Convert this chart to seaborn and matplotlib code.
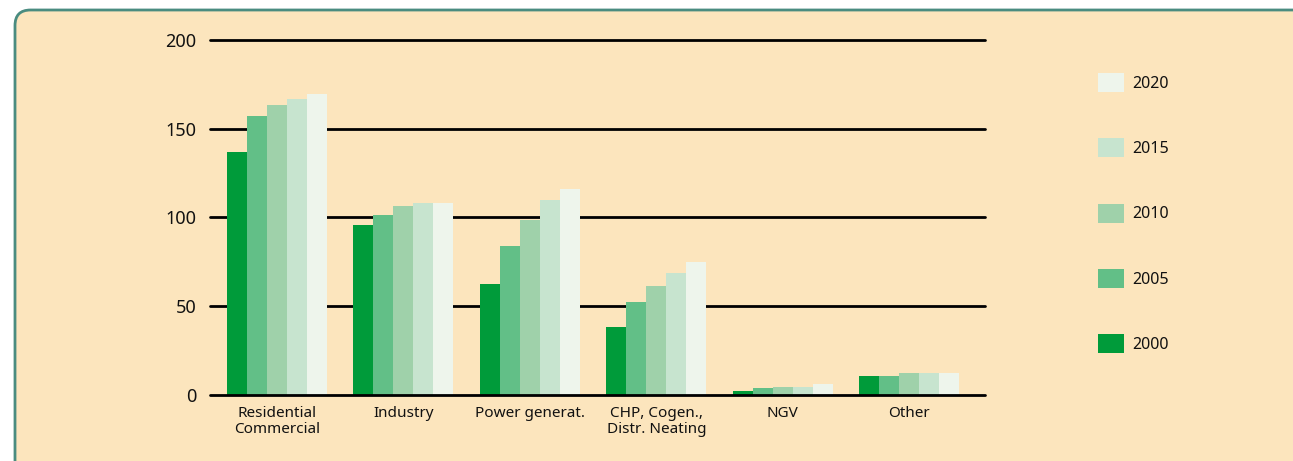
import matplotlib.pyplot as plt
import pandas as pd
import seaborn as sns
import numpy as np
from matplotlib.patches import FancyBboxPatch, Patch

sns.set_theme(style="white")
plt.rcParams['font.family'] = ['Noto Sans', 'DejaVu Sans']

# --------------- data ---------------
categories = ["Residential\nCommercial", "Industry", "Power generat.",
              "CHP, Cogen.,\nDistr. Neating", "NGV", "Other"]
years = ["2000", "2005", "2010", "2015", "2020"]
v2000 = [137, 96, 62.5, 38.5, 2.3, 10.7]
v2005 = [157, 101.5, 84, 52.5, 3.9, 10.7]
v2010 = [163.5, 106.5, 98.5, 61.5, 4.5, 12.4]
v2015 = [167, 108, 110, 68.5, 4.5, 12.4]
v2020 = [169.5, 108, 116, 75, 6.2, 12.4]
yticks = [0, 50, 100, 150, 200]

colors = ["#009b3a", "#62bf87", "#9fd1aa", "#c7e4cf", "#eef5ec"]
bg = "#fce5bd"

df = pd.DataFrame({"category": categories * 5,
                   "year": np.repeat(years, len(categories)),
                   "value": v2000 + v2005 + v2010 + v2015 + v2020})

fig = plt.figure(figsize=(12.93, 4.61), dpi=100)
fig.patch.set_facecolor("white")

# rounded panel behind everything
panel = FancyBboxPatch((15 / 1293, -0.2), 1.2, 1 - 10 / 461 + 0.2,
                       boxstyle="round,pad=0,rounding_size=0.012",
                       transform=fig.transFigure, facecolor=bg,
                       edgecolor="#4a8c80", linewidth=2, zorder=-10,
                       mutation_aspect=1293 / 461)
fig.patches.append(panel)

ax = fig.add_axes([210 / 1293, 1 - 395 / 461, 775 / 1293, 355 / 461])
ax.set_facecolor("none")

sns.barplot(data=df, x="category", y="value", hue="year", palette=colors,
            width=0.79, saturation=1, ax=ax, legend=False, zorder=2,
            linewidth=0, edgecolor="none")

for y in yticks:
    ax.axhline(y, color="black", linewidth=2, clip_on=False,
               zorder=3 if y == 0 else 0)

ax.set_xlim(-0.53, 5.6)
ax.set_ylim(0, 200)
ax.set_yticks(yticks)
ax.set_xlabel("")
ax.set_ylabel("")
for s in ax.spines.values():
    s.set_visible(False)
ax.tick_params(axis="y", length=0, pad=10, labelsize=13, colors="#111111")
ax.tick_params(axis="x", length=0, pad=8, labelsize=11, colors="#111111")
for lab in ax.get_xticklabels():
    lab.set_linespacing(1.1)

handles = [Patch(facecolor=c, edgecolor="none") for c in colors]
leg = fig.legend(handles[::-1], years[::-1], loc="upper left",
                 bbox_to_anchor=(1098 / 1293, 1 - 73 / 461),
                 frameon=False, fontsize=11.5, handlelength=1.65,
                 handleheight=1.45, handletextpad=0.5, labelspacing=2.9,
                 borderaxespad=0, borderpad=0)
for t in leg.get_texts():
    t.set_color("#111111")

fig.savefig("out.png", dpi=100, facecolor=fig.get_facecolor())
